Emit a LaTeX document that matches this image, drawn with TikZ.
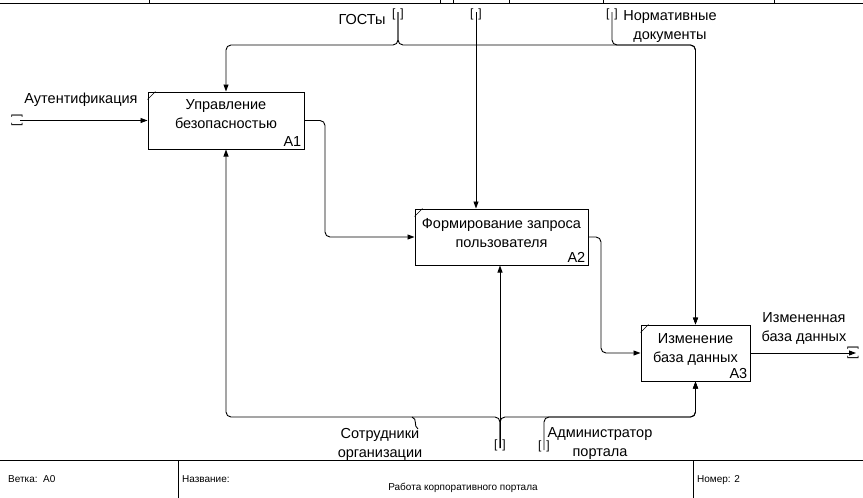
\documentclass[tikz,border=0pt]{standalone}
\usepackage{fontspec}
\setmainfont{Liberation Sans}
\usetikzlibrary{arrows.meta,positioning,calc}

\begin{document}
\begin{tikzpicture}[x=1pt,y=-1pt,
  every node/.style={font=\fontsize{14.5}{19}\selectfont,align=center,inner sep=0pt},
  fbox/.style={draw,line width=1pt,minimum height=56pt},
  num/.style={anchor=south east,inner sep=3pt},
  small/.style={font=\fontsize{10}{12}\selectfont,anchor=base west},
  tun/.style={font=\fontsize{12}{12}\selectfont},
  arr/.style={-{Triangle[length=7pt,width=5pt]},line width=0.9pt,rounded corners=5pt},
  line/.style={line width=0.9pt}
]
\useasboundingbox (0,0) rectangle (863,498);
% activity boxes
\node[fbox,minimum width=156pt,minimum height=57pt] (a1) at (226,120.5) {};
\node[fbox,minimum width=173pt] (a2) at (501.5,237) {};
\node[fbox,minimum width=109pt] (a3) at (695.5,353) {};
\node (a1t) at ([yshift=6pt]a1.center) {Управление\\безопасностью};
\node (a2t) at ([yshift=4pt]a2.center) {Формирование запроса\\пользователя};
\node (a3t) at ([yshift=4pt]a3.center) {Изменение\\база данных};
\node[num] (a1n) at (a1.south east) {A1};
\node[num] (a2n) at (a2.south east) {A2};
\node[num] (a3n) at (a3.south east) {A3};
\draw ([yshift=-8pt]a1.north west) -- ([xshift=8pt]a1.north west);
\draw ([yshift=-8pt]a2.north west) -- ([xshift=8pt]a2.north west);
\draw ([yshift=-8pt]a3.north west) -- ([xshift=8pt]a3.north west);

% free ends and bends
\coordinate (authIn) at (20,120.5);
\coordinate (gostIn) at (398,12);
\coordinate (ctrlIn) at (476,12);
\coordinate (normIn) at (612,12);
\coordinate (busTop) at (0,45);
\coordinate (busBot) at (0,417);
\coordinate (empIn) at (500,448);
\coordinate (admIn) at (544,450);
\coordinate (b1) at (325,0);
\coordinate (b2) at (601,0);
\coordinate (dbOut) at (856,353);

% input, controls
\draw[arr] (authIn) -- (a1.west);
\draw[arr] (gostIn) |- (busTop -| a1.north) -- (a1.north);
\draw[arr] (gostIn) |- (busTop -| a3.north) -- (a3.north);
\draw[arr] (normIn) |- (busTop -| a3.north) -- (a3.north);
\draw[arr] (ctrlIn) -- (ctrlIn |- a2.north);

% outputs
\draw[arr] (a1.east) -| (b1 |- a2.west) -- (a2.west);
\draw[arr] (a2.east) -| (b2 |- a3.west) -- (a3.west);
\draw[arr] (a3.east) -- (dbOut);

% mechanisms
\draw[arr] (empIn) |- (busBot -| a1.south) -- (a1.south);
\draw[arr] (empIn) |- (busBot -| a3.south) -- (a3.south);
\draw[arr] (empIn) -- (empIn |- a2.south);
\draw[arr] (admIn) |- (busBot -| a3.south) -- (a3.south);
\draw[line] (412,417) .. controls (418,419) and (413,426) .. (418,429);

% tunnels
\node[tun,rotate=90] (tAuth) at (17,120.5) {[\hspace{6pt}]};
\node[tun,rotate=90] (tDb) at (853,353) {[\hspace{7pt}]};
\node[tun] (tGost) at (398,14) {[\hspace{5pt}]};
\node[tun] (tCtrl) at (476,14) {[\hspace{5pt}]};
\node[tun] (tNorm) at (612,14) {[\hspace{5pt}]};
\node[tun] (tEmp) at (500,445) {[\hspace{5pt}]};
\node[tun] (tAdm) at (544,446) {[\hspace{5pt}]};

% arrow labels
\node (lAuth) at (81,100) {Аутентификация};
\node (lGost) at (362,20) {ГОСТы};
\node (lNorm) at (670,27) {Нормативные\\документы};
\node (lDb) at (804,328) {Измененная\\база данных};
\node (lEmp) at (380,444) {Сотрудники\\организации};
\node (lAdm) at (600,444) {Администратор\\портала};

% frame
\draw[line] (0,3) -- (863,3);
\foreach \x in {149,440,453,509,603,774} \draw (\x,0) -- (\x,3);
\draw[line] (0,460) -- (863,460);
\draw[line] (178,460) -- (178,498);
\draw[line] (693,460) -- (693,498);
\node[small] (branch) at (8,482) {Ветка:\ \ A0};
\node[small] (ttl) at (182,482) {Название:};
\node[small,anchor=base] (ttlv) at (463,490) {Работа корпоративного портала};
\node[small] (num) at (697,482) {Номер: 2};
\end{tikzpicture}
\end{document}
